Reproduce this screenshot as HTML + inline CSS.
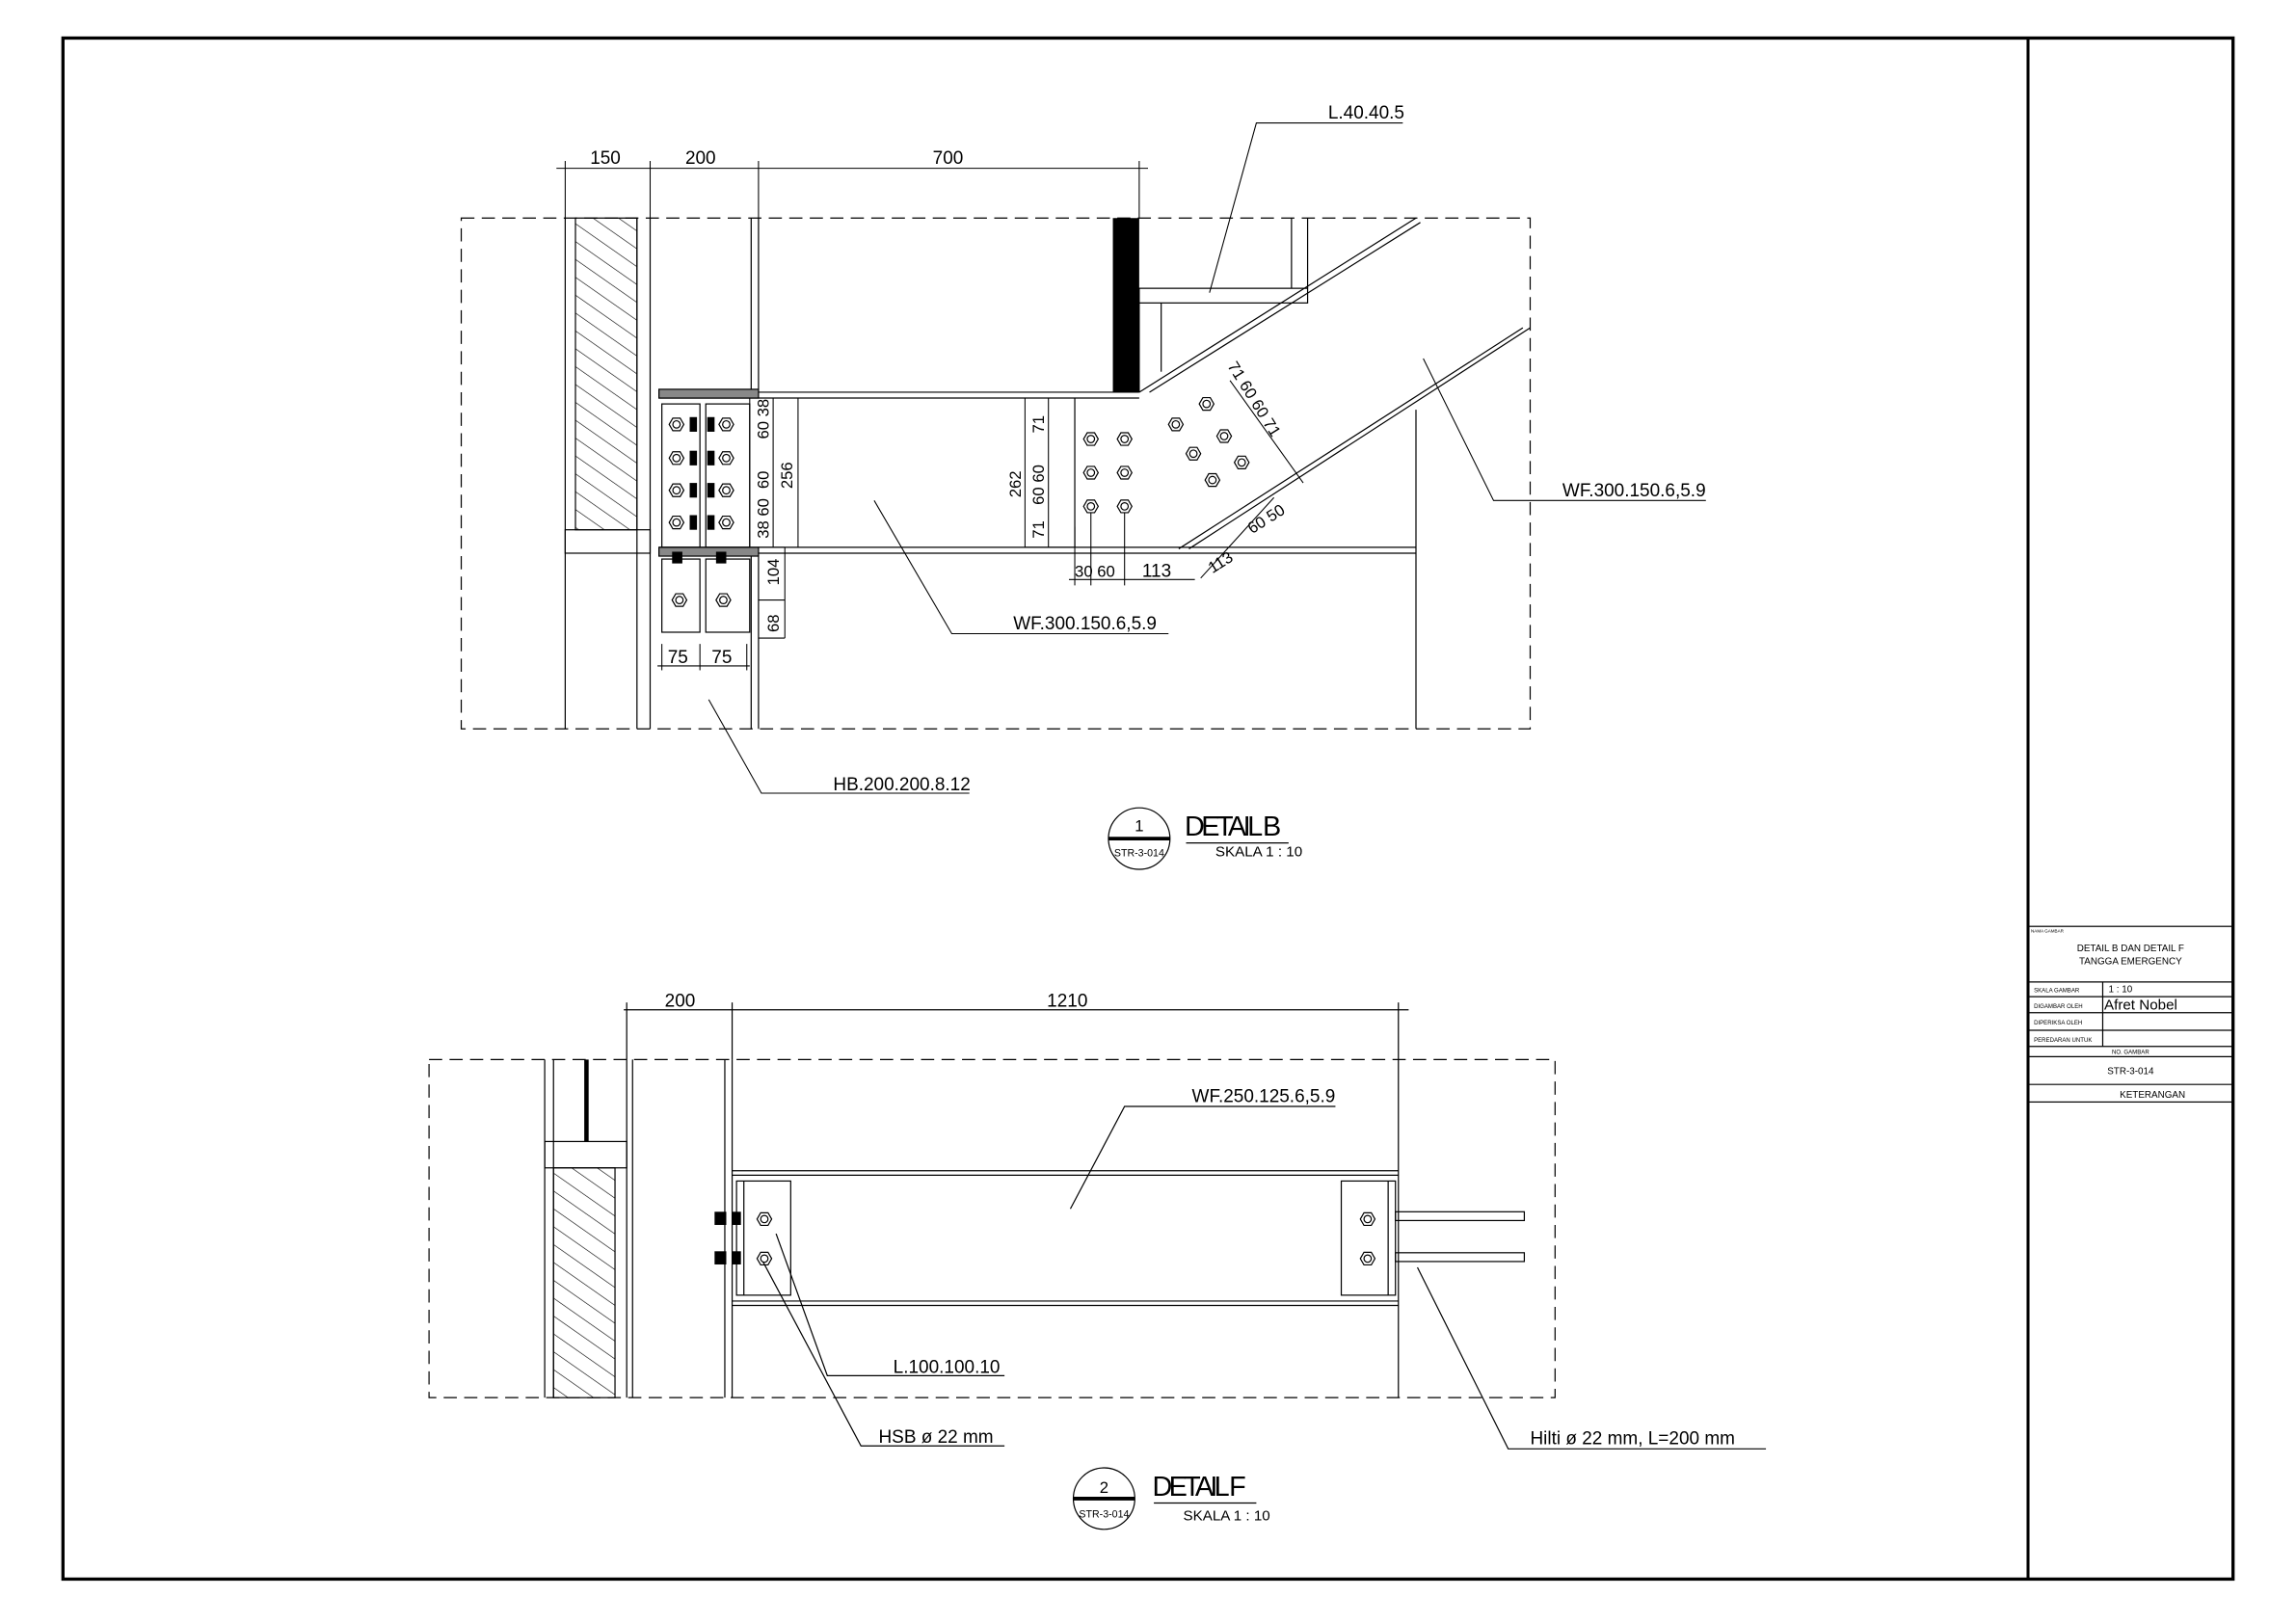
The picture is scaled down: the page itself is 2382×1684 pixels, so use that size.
<!DOCTYPE html>
<html><head><meta charset="utf-8"><style>
html,body{margin:0;padding:0;background:#fff}
svg{display:block}
text{font-family:"Liberation Sans",sans-serif;fill:#000}
</style></head><body>
<svg width="2382" height="1684" viewBox="0 0 1568 1109" preserveAspectRatio="none" xmlns="http://www.w3.org/2000/svg">
<defs>
<pattern id="h" width="10" height="10" patternUnits="userSpaceOnUse" patternTransform="rotate(-55)">
<line x1="0" y1="0" x2="0" y2="10" stroke="#000" stroke-width="0.8"/></pattern>
<g id="bolt" stroke="#000" stroke-width="0.8" fill="none"><polygon points="-5,0 -2.5,-4.3 2.5,-4.3 5,0 2.5,4.3 -2.5,4.3"/><circle r="2.5"/></g>
</defs>
<rect width="1568" height="1109" fill="#fff"/>
<!-- border -->
<rect x="43" y="26" width="1482" height="1053" fill="none" stroke="#000" stroke-width="2.2"/>
<line x1="1385" y1="26" x2="1385" y2="1079" stroke="#000" stroke-width="2"/>
<!-- title block -->
<g stroke="#000" stroke-width="0.8" fill="none">
<rect x="1385" y="633" width="140" height="120"/>
<line x1="1385" y1="671" x2="1525" y2="671"/>
<line x1="1385" y1="681" x2="1525" y2="681"/>
<line x1="1385" y1="692" x2="1525" y2="692"/>
<line x1="1385" y1="704" x2="1525" y2="704"/>
<line x1="1385" y1="715" x2="1525" y2="715"/>
<line x1="1385" y1="722" x2="1525" y2="722"/>
<line x1="1385" y1="741" x2="1525" y2="741"/>
<line x1="1436" y1="671" x2="1436" y2="715"/>
</g>
<g font-size="6.5">
<text x="1387" y="637" font-size="3">NAMA GAMBAR</text>
<text x="1455" y="650" text-anchor="middle">DETAIL B DAN DETAIL F</text>
<text x="1455" y="659" text-anchor="middle">TANGGA EMERGENCY</text>
<text x="1389" y="678" font-size="4">SKALA GAMBAR</text>
<text x="1389" y="689" font-size="4">DIGAMBAR OLEH</text>
<text x="1389" y="700" font-size="4">DIPERIKSA OLEH</text>
<text x="1389" y="712" font-size="4">PEREDARAN UNTUK</text>
<text x="1440" y="678">1 : 10</text>
<text x="1437" y="690" font-size="10">Afret Nobel</text>
<text x="1455" y="720" font-size="4" text-anchor="middle">NO. GAMBAR</text>
<text x="1455" y="734" text-anchor="middle">STR-3-014</text>
<text x="1470" y="750" text-anchor="middle">KETERANGAN</text>
</g>

<!-- DETAIL B -->
<g stroke="#000" stroke-width="0.8" fill="none">
<rect x="315" y="149" width="730" height="349" stroke-dasharray="9,5"/>
<line x1="386" y1="149" x2="386" y2="498"/>
<line x1="435" y1="149" x2="435" y2="498"/>
<line x1="444" y1="149" x2="444" y2="498"/>
<line x1="513" y1="149" x2="513" y2="268"/>
<line x1="518" y1="149" x2="518" y2="268"/>
<line x1="513" y1="378" x2="513" y2="498"/>
<line x1="518" y1="378" x2="518" y2="498"/>
<line x1="967" y1="280" x2="967" y2="498"/>
<rect x="393" y="149" width="42" height="213" fill="url(#h)"/>
<rect x="386" y="362" width="58" height="16"/>
<line x1="450" y1="268" x2="778" y2="268"/>
<line x1="450" y1="272" x2="778" y2="272"/>
<line x1="450" y1="374" x2="967" y2="374"/>
<line x1="450" y1="378" x2="967" y2="378"/>
<rect x="450" y="266" width="68" height="6" fill="#888"/>
<rect x="450" y="374" width="68" height="6" fill="#888"/>
<line x1="734" y1="272" x2="734" y2="374"/>
<rect x="778" y="197" width="115" height="10"/>
<line x1="778" y1="197" x2="778" y2="268"/>
<line x1="793" y1="207" x2="793" y2="254"/>
<line x1="882" y1="149" x2="882" y2="197"/>
<line x1="893" y1="149" x2="893" y2="197"/>
<line x1="778" y1="268" x2="967" y2="149"/>
<line x1="785" y1="268" x2="970" y2="152"/>
<line x1="812" y1="375" x2="1045" y2="224"/>
<line x1="805" y1="375" x2="1040" y2="224"/>
<rect x="452" y="276" width="26" height="98"/>
<rect x="482" y="276" width="30" height="98"/>
<rect x="452" y="382" width="26" height="50"/>
<rect x="482" y="382" width="30" height="50"/>
</g>
<rect x="760" y="149" width="18" height="119" fill="#000"/>
<use href="#bolt" x="462" y="290"/><use href="#bolt" x="462" y="313"/><use href="#bolt" x="462" y="335"/><use href="#bolt" x="462" y="357"/>
<use href="#bolt" x="496" y="290"/><use href="#bolt" x="496" y="313"/><use href="#bolt" x="496" y="335"/><use href="#bolt" x="496" y="357"/>
<use href="#bolt" x="464" y="410"/><use href="#bolt" x="494" y="410"/>
<use href="#bolt" x="745" y="300"/><use href="#bolt" x="768" y="300"/><use href="#bolt" x="745" y="323"/><use href="#bolt" x="768" y="323"/><use href="#bolt" x="745" y="346"/><use href="#bolt" x="768" y="346"/>
<use href="#bolt" x="824" y="276"/><use href="#bolt" x="803" y="290"/><use href="#bolt" x="836" y="298"/><use href="#bolt" x="815" y="310"/><use href="#bolt" x="848" y="316"/><use href="#bolt" x="828" y="328"/>
<g fill="#000"><rect x="471" y="285" width="5" height="10"/><rect x="471" y="308" width="5" height="10"/><rect x="471" y="330" width="5" height="10"/><rect x="471" y="352" width="5" height="10"/>
<rect x="483" y="285" width="5" height="10"/><rect x="483" y="308" width="5" height="10"/><rect x="483" y="330" width="5" height="10"/><rect x="483" y="352" width="5" height="10"/>
<rect x="459" y="377" width="7" height="8"/><rect x="489" y="377" width="7" height="8"/></g>
<g stroke="#000" stroke-width="0.7" fill="none">
<line x1="380" y1="115" x2="784" y2="115"/>
<line x1="386" y1="110" x2="386" y2="149"/><line x1="444" y1="110" x2="444" y2="149"/><line x1="518" y1="110" x2="518" y2="149"/><line x1="778" y1="110" x2="778" y2="149"/>
<line x1="512" y1="272" x2="512" y2="374"/><line x1="528" y1="272" x2="528" y2="374"/><line x1="545" y1="272" x2="545" y2="374"/>
<line x1="518" y1="374" x2="536" y2="374"/><line x1="518" y1="410" x2="536" y2="410"/><line x1="536" y1="374" x2="536" y2="436"/><line x1="518" y1="436" x2="536" y2="436"/>
<line x1="449" y1="455" x2="512" y2="455"/><line x1="452" y1="440" x2="452" y2="458"/><line x1="478" y1="440" x2="478" y2="458"/><line x1="510" y1="440" x2="510" y2="458"/>
<line x1="716" y1="272" x2="716" y2="374"/><line x1="700" y1="272" x2="734" y2="272"/><line x1="700" y1="374" x2="734" y2="374"/><line x1="700" y1="272" x2="700" y2="374"/>
<line x1="730" y1="396" x2="816" y2="396"/><line x1="734" y1="360" x2="734" y2="400"/><line x1="745" y1="350" x2="745" y2="400"/><line x1="768" y1="350" x2="768" y2="400"/>
<line x1="840" y1="260" x2="890" y2="330"/><line x1="870" y1="340" x2="820" y2="395"/>
<polyline points="958,84 858,84 826,200"/>
<polyline points="1165,342 1020,342 972,245"/>
<polyline points="798,433 650,433 597,342"/>
<polyline points="662,542 520,542 484,478"/>
</g>
<g font-size="12.5">
<text x="403" y="112">150</text><text x="468" y="112">200</text><text x="637" y="112">700</text>
<text x="907" y="81">L.40.40.5</text>
<text x="1067" y="339">WF.300.150.6,5.9</text>
<text x="692" y="430">WF.300.150.6,5.9</text>
<text x="569" y="540">HB.200.200.8.12</text>
<text x="456" y="453">75</text><text x="486" y="453">75</text>
<text x="734" y="394" font-size="11">30 60</text><text x="780" y="394">113</text>
</g>
<g font-size="11">
<text transform="translate(525,300) rotate(-90)">60 38</text>
<text transform="translate(525,334) rotate(-90)">60</text>
<text transform="translate(525,368) rotate(-90)">38 60</text>
<text transform="translate(541,334) rotate(-90)">256</text>
<text transform="translate(532,400) rotate(-90)">104</text>
<text transform="translate(532,432) rotate(-90)">68</text>
<text transform="translate(697,340) rotate(-90)">262</text>
<text transform="translate(713,296) rotate(-90)">71</text>
<text transform="translate(713,345) rotate(-90)">60 60</text>
<text transform="translate(713,368) rotate(-90)">71</text>
<text transform="translate(838,250) rotate(58)">71 60 60 71</text>
<text transform="translate(828,392) rotate(-32)">113</text>
<text transform="translate(855,365) rotate(-32)">60 50</text>
</g>
<g stroke="#000" fill="none" stroke-width="0.8"><circle cx="778" cy="573" r="21"/><line x1="757" y1="573" x2="799" y2="573" stroke-width="2.5"/><line x1="810" y1="576" x2="880" y2="576"/></g>
<text x="778" y="568" font-size="11" text-anchor="middle">1</text>
<text x="778" y="585" font-size="7" text-anchor="middle">STR-3-014</text>
<text x="809" y="571" font-size="19" textLength="66">DETAIL B</text>
<text x="830" y="585" font-size="10">SKALA 1 : 10</text>

<!-- DETAIL F -->
<g stroke="#000" stroke-width="0.8" fill="none">
<rect x="293" y="724" width="769" height="231" stroke-dasharray="9,5"/>
<line x1="372" y1="724" x2="372" y2="955"/><line x1="378" y1="724" x2="378" y2="955"/>
<line x1="428" y1="724" x2="428" y2="955"/><line x1="432" y1="724" x2="432" y2="955"/>
<line x1="495" y1="724" x2="495" y2="955"/><line x1="500" y1="724" x2="500" y2="955"/>
<line x1="955" y1="724" x2="955" y2="955"/>
<rect x="372" y="780" width="56" height="18"/>
<rect x="378" y="798" width="42" height="157" fill="url(#h)"/>
<line x1="500" y1="800" x2="955" y2="800"/><line x1="500" y1="803" x2="955" y2="803"/>
<line x1="500" y1="889" x2="955" y2="889"/><line x1="500" y1="892" x2="955" y2="892"/>
<rect x="503" y="807" width="37" height="78"/><line x1="508" y1="807" x2="508" y2="885"/>
<rect x="916" y="807" width="37" height="78"/><line x1="948" y1="807" x2="948" y2="885"/>
<rect x="953" y="828" width="88" height="6"/><rect x="953" y="856" width="88" height="6"/>
<line x1="426" y1="690" x2="962" y2="690"/>
<line x1="428" y1="685" x2="428" y2="724"/><line x1="500" y1="685" x2="500" y2="724"/><line x1="955" y1="685" x2="955" y2="724"/>
<polyline points="912,756 768,756 731,826"/>
<polyline points="686,940 565,940 530,843"/>
<polyline points="686,988 588,988 521,862"/>
<polyline points="1206,990 1030,990 968,866"/>
</g>
<use href="#bolt" x="522" y="833"/><use href="#bolt" x="522" y="860"/>
<use href="#bolt" x="934" y="833"/><use href="#bolt" x="934" y="860"/>
<rect x="399" y="724" width="3" height="56" fill="#000"/>
<g fill="#000"><rect x="488" y="828" width="8" height="9"/><rect x="488" y="855" width="8" height="9"/><rect x="500" y="828" width="6" height="9"/><rect x="500" y="855" width="6" height="9"/></g>
<g font-size="12.5">
<text x="454" y="688">200</text><text x="715" y="688">1210</text>
<text x="814" y="753">WF.250.125.6,5.9</text>
<text x="610" y="938">L.100.100.10</text>
<text x="600" y="986">HSB ø 22 mm</text>
<text x="1045" y="987">Hilti ø 22 mm, L=200 mm</text>
</g>
<g stroke="#000" fill="none" stroke-width="0.8"><circle cx="754" cy="1024" r="21"/><line x1="733" y1="1024" x2="775" y2="1024" stroke-width="2.5"/><line x1="788" y1="1027" x2="858" y2="1027"/></g>
<text x="754" y="1020" font-size="11" text-anchor="middle">2</text>
<text x="754" y="1037" font-size="7" text-anchor="middle">STR-3-014</text>
<text x="787" y="1022" font-size="19" textLength="64">DETAIL F</text>
<text x="808" y="1039" font-size="10">SKALA 1 : 10</text>
</svg>
</body></html>
